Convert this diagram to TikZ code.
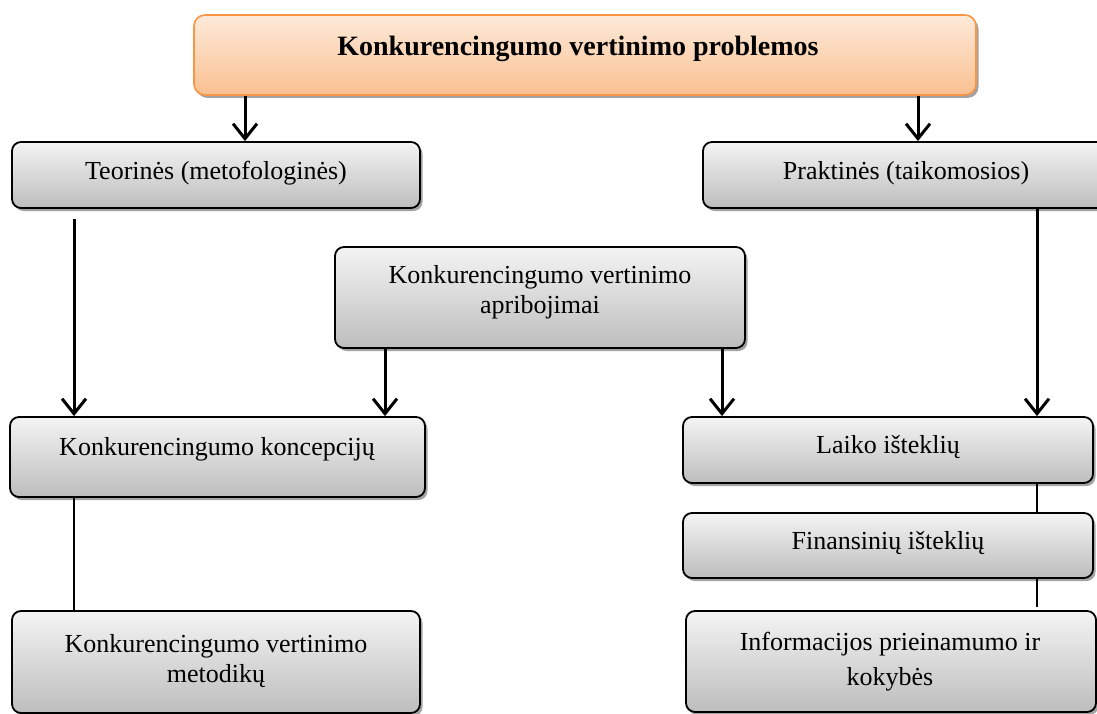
\documentclass[tikz,border=0pt]{standalone}
\usepackage{fontspec}
\setmainfont{Liberation Serif}
\usetikzlibrary{arrows.meta,shadows}
\definecolor{boxtop}{HTML}{F4F4F4}
\definecolor{boxbot}{HTML}{BDBDBD}
\definecolor{heattop}{HTML}{FDEADA}
\definecolor{heatbot}{HTML}{FAC090}
\definecolor{heatline}{HTML}{F79646}
\tikzset{
  grbox/.style={draw=black, line width=1.8pt, rounded corners=9pt,
    top color=boxtop, bottom color=boxbot, inner sep=0pt,
    drop shadow={shadow xshift=2.5pt, shadow yshift=-3pt, fill=black!45, opacity=0.8}},
  headbox/.style={draw=heatline, line width=1.6pt, rounded corners=11pt,
    top color=heattop, bottom color=heatbot, inner sep=0pt,
    drop shadow={shadow xshift=2.5pt, shadow yshift=-3pt, fill=black!45, opacity=0.8}},
  txt/.style={anchor=base, inner sep=0pt, font=\fontsize{26}{30}\selectfont, align=center},
  arr/.style={line width=3pt, -{Straight Barb[length=15pt, width=24pt, line width=3pt]}},
  link/.style={line width=2pt}
}
\begin{document}
\begin{tikzpicture}[x=1pt, y=-1pt]
\useasboundingbox (0,0) rectangle (1097,714);

% boxes
\node[headbox, minimum width=782pt, minimum height=80pt] (top) at (585,55) {};
\node[grbox, minimum width=408pt, minimum height=66pt] (teo) at (216,175) {};
\node[grbox, minimum width=408pt, minimum height=66pt] (prak) at (907,175) {};
\node[grbox, minimum width=410pt, minimum height=101pt] (apr) at (540,297.5) {};
\node[grbox, minimum width=415pt, minimum height=80pt] (konc) at (217.5,457) {};
\node[grbox, minimum width=410pt, minimum height=66pt] (laiko) at (888,450) {};
\node[grbox, minimum width=410pt, minimum height=65pt] (fin) at (888,545.5) {};
\node[grbox, minimum width=410pt, minimum height=101pt] (info) at (891,661.5) {};
\node[grbox, minimum width=408pt, minimum height=102pt] (met) at (216,662) {};

% texts
\node[txt, font=\fontsize{28}{32}\selectfont\bfseries] (ttop) at (578,56) {Konkurencingumo vertinimo problemos};
\node[txt] (tteo) at (216,180) {Teorinės (metofologinės)};
\node[txt] (tprak) at (906,180) {Praktinės (taikomosios)};
\node[txt] (tapr) at (540,283) {Konkurencingumo vertinimo};
\node[txt] (tapr2) at (540,313) {apribojimai};
\node[txt] (tkonc) at (217,455) {Konkurencingumo koncepcijų};
\node[txt] (tlaiko) at (888,453) {Laiko išteklių};
\node[txt] (tfin) at (888,549) {Finansinių išteklių};
\node[txt] (tinfo) at (890,650) {Informacijos prieinamumo ir};
\node[txt] (tinfo2) at (890,685) {kokybės};
\node[txt] (tmet) at (216,652) {Konkurencingumo vertinimo};
\node[txt] (tmet2) at (216,682) {metodikų};

% connectors
\draw[arr] (245,0 |- top.south) -- (245,0 |- teo.north);
\draw[arr] (918,0 |- top.south) -- (918,0 |- prak.north);
\draw[arr] ([yshift=-10pt]74,0 |- teo.south) -- (74,0 |- konc.north);
\draw[arr] (385,0 |- apr.south) -- (385,0 |- konc.north);
\draw[arr] (722,0 |- apr.south) -- (722,0 |- laiko.north);
\draw[arr] (1037,0 |- prak.south) -- (1037,0 |- laiko.north);
\draw[link] (74,0 |- konc.south) -- (74,0 |- met.north);
\draw[link] (1037,0 |- laiko.south) -- (1037,0 |- fin.north);
\draw[link] (1037,0 |- fin.south) -- ([yshift=3pt]1037,0 |- info.north);
\end{tikzpicture}
\end{document}
